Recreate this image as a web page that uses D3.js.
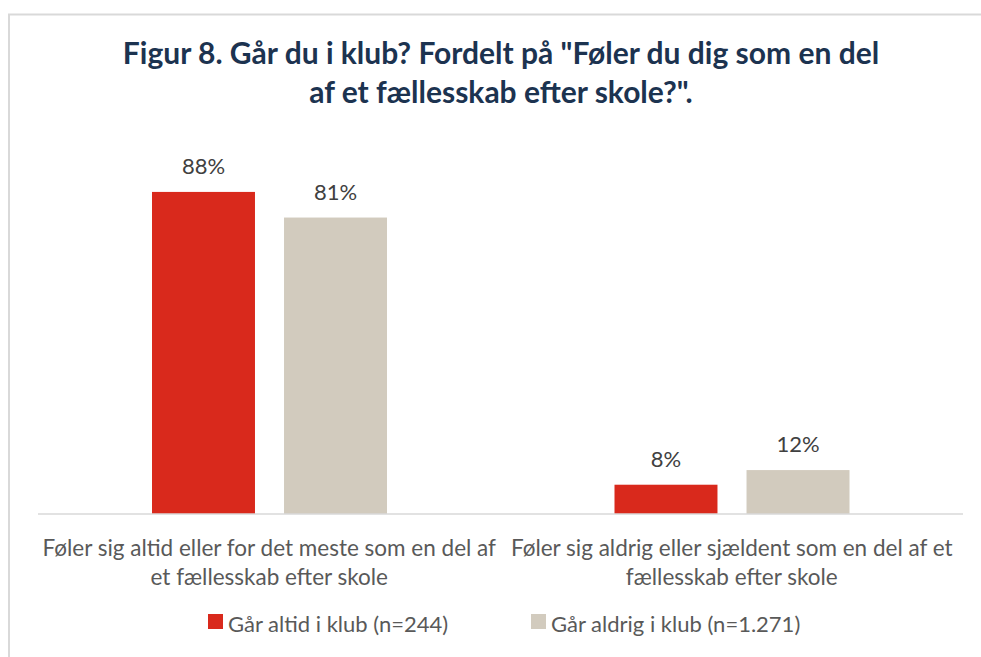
<!DOCTYPE html>
<html>
<head>
<meta charset="utf-8">
<script src="https://cdn.jsdelivr.net/npm/d3@7"></script>
<style>
  body { margin: 0; background: #fff; }
  text { font-family: Lato, "Open Sans", sans-serif; }
</style>
</head>
<body>
<div id="viz"></div>
<script>
var W = 981, H = 657;

// data
var categories = [
  ["Føler sig altid eller for det meste som en del af", "et fællesskab efter skole"],
  ["Føler sig aldrig eller sjældent som en del af et", "fællesskab efter skole"]
];
var series = ["Går altid i klub (n=244)", "Går aldrig i klub (n=1.271)"];
var altid = [88, 8];
var aldrig = [81, 12];
var colors = ["#d9291c", "#d2cbbe"];

var svg = d3.select("#viz").append("svg")
    .attr("width", W)
    .attr("height", H);

svg.append("rect")
    .attr("width", W).attr("height", H)
    .attr("fill", "#fff");

// chart frame
svg.append("path")
    .attr("d", "M9," + H + "V14.5H" + W)
    .attr("fill", "none")
    .attr("stroke", "#d9d9d9")
    .attr("stroke-width", 2);

// title
var title = svg.append("text")
    .attr("text-anchor", "middle")
    .attr("fill", "#1c3350")
    .style("font-weight", "bold")
    .style("font-size", "30px");
title.append("tspan").attr("x", 501).attr("y", 64)
    .text("Figur 8. Går du i klub? Fordelt på \"Føler du dig som en del");
title.append("tspan").attr("x", 501).attr("y", 103)
    .text("af et fællesskab efter skole?\".");

var base = 514;
var x = d3.scaleBand().domain(d3.range(categories.length)).range([38, 963]);
var xi = d3.scaleBand().domain(d3.range(series.length))
    .range([114, 349]).paddingInner(0.22);
var y = d3.scaleLinear().domain([0, 100]).range([base, base - 366]);

var rows = categories.map(function(c, i) { return [altid[i], aldrig[i]]; });

var grp = svg.selectAll("g.cat").data(rows).enter().append("g")
    .attr("class", "cat")
    .attr("transform", function(d, i) { return "translate(" + x(i) + ",0)"; });

grp.selectAll("rect").data(function(d) { return d; }).enter().append("rect")
    .attr("x", function(d, j) { return xi(j); })
    .attr("y", function(d) { return y(d); })
    .attr("width", xi.bandwidth())
    .attr("height", function(d) { return base - y(d); })
    .attr("fill", function(d, j) { return colors[j]; });

grp.selectAll("text.val").data(function(d) { return d; }).enter().append("text")
    .attr("class", "val")
    .attr("x", function(d, j) { return xi(j) + xi.bandwidth() / 2; })
    .attr("y", function(d) { return y(d) - 18; })
    .attr("text-anchor", "middle")
    .attr("fill", "#404040")
    .style("font-size", "22px")
    .text(function(d) { return d + "%"; });

// axis line
svg.append("line")
    .attr("x1", x.range()[0]).attr("x2", x.range()[1])
    .attr("y1", base).attr("y2", base)
    .attr("stroke", "#d9d9d9")
    .attr("stroke-width", 1.5);

// category labels
var cl = svg.selectAll("text.cat").data(categories).enter().append("text")
    .attr("class", "cat")
    .attr("text-anchor", "middle")
    .attr("fill", "#595959")
    .style("font-size", "22.5px");
cl.selectAll("tspan").data(function(d, i) { return d.map(function(t) { return {t: t, i: i}; }); })
  .enter().append("tspan")
    .attr("x", function(d) { return x(d.i) + x.bandwidth() / 2; })
    .attr("y", function(d, k) { return 556 + k * 29; })
    .text(function(d) { return d.t; });

// legend
var legX = [208, 531];
var lg = svg.selectAll("g.leg").data(series).enter().append("g")
    .attr("class", "leg")
    .attr("transform", function(d, i) { return "translate(" + legX[i] + ",614)"; });
lg.append("rect")
    .attr("width", 15).attr("height", 15)
    .attr("fill", function(d, i) { return colors[i]; });
lg.append("text")
    .attr("x", 20).attr("y", 18)
    .attr("fill", "#595959")
    .style("font-size", "22px")
    .text(function(d) { return d; });
</script>
</body>
</html>
